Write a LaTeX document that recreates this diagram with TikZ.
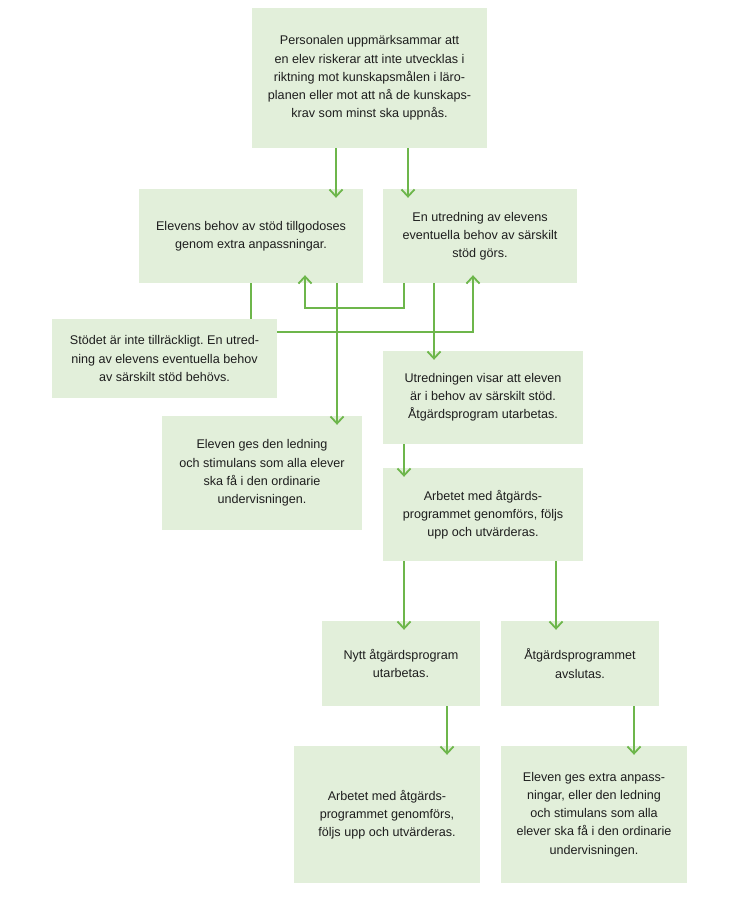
\documentclass[tikz,border=0pt]{standalone}
\usepackage{fontspec}
\setmainfont{Liberation Sans}
\usetikzlibrary{arrows.meta,calc}
\definecolor{boxgreen}{HTML}{E2EFDA}
\definecolor{linegreen}{HTML}{6DB64B}
\definecolor{txt}{HTML}{1E1E1E}
\frenchspacing
\begin{document}
\begin{tikzpicture}[x=1bp,y=-1bp,
  box/.style={fill=boxgreen, inner sep=0pt, align=center, text=txt,
    font=\fontsize{12.6bp}{18.2bp}\selectfont\frenchspacing},
  ln/.style={draw=linegreen, line width=1.8bp},
  arr/.style={ln, -{Straight Barb[length=7bp,width=13bp]}}]
\useasboundingbox (0,0) rectangle (747,897);
\fill[white] (0,0) rectangle (747,897);
% boxes
\node[box, minimum width=235bp, minimum height=140bp] (top) at (369.5,78)
  {Personalen uppmärksammar att\\ en elev riskerar att inte utvecklas i\\ riktning mot kunskapsmålen i läro-\\ planen eller mot att nå de kunskaps-\\ krav som minst ska uppnås.};
\node[box, minimum width=224bp, minimum height=94bp] (b1) at (251,236)
  {Elevens behov av stöd tillgodoses\\ genom extra anpassningar.};
\node[box, minimum width=194bp, minimum height=94bp] (b2) at (480,236)
  {En utredning av elevens\\ eventuella behov av särskilt\\ stöd görs.};
\node[box, minimum width=225bp, minimum height=79bp] (stod) at (164.5,358.5)
  {Stödet är inte tillräckligt. En utred-\\ ning av elevens eventuella behov\\ av särskilt stöd behövs.};
\node[box, minimum width=200bp, minimum height=93bp] (utr) at (483,397.5)
  {Utredningen visar att eleven\\ är i behov av särskilt stöd.\\ Åtgärdsprogram utarbetas.};
\node[box, minimum width=200bp, minimum height=114bp] (elev) at (262,473)
  {Eleven ges den ledning\\ och stimulans som alla elever\\ ska få i den ordinarie\\ undervisningen.};
\node[box, minimum width=200bp, minimum height=93bp] (arb) at (483,514.5)
  {Arbetet med åtgärds-\\ programmet genomförs, följs\\ upp och utvärderas.};
\node[box, minimum width=158bp, minimum height=85bp] (nytt) at (401,663.5)
  {Nytt åtgärdsprogram\\ utarbetas.};
\node[box, minimum width=158bp, minimum height=85bp] (avsl) at (580,663.5)
  {Åtgärdsprogrammet\\ avslutas.};
\node[box, minimum width=186bp, minimum height=137bp] (arbb) at (387,814.5)
  {Arbetet med åtgärds-\\ programmet genomförs,\\ följs upp och utvärderas.};
\node[box, minimum width=186bp, minimum height=137bp] (extra) at (594,814.5)
  {Eleven ges extra anpass-\\ ningar, eller den ledning\\ och stimulans som alla\\ elever ska få i den ordinarie\\ undervisningen.};
% helper coordinates
\coordinate (x251) at (251,0);
\coordinate (x305) at (305,0);
\coordinate (x336) at (336,0);
\coordinate (x337) at (337,0);
\coordinate (x404) at (404,0);
\coordinate (x408) at (408,0);
\coordinate (x434) at (434,0);
\coordinate (x473) at (473,0);
\coordinate (x447) at (447,0);
\coordinate (x556) at (556,0);
\coordinate (x634) at (634,0);
\coordinate (y308) at (0,308);
\coordinate (y332) at (0,332);
% connectors
\draw[arr] (top.south -| x336) -- ($(b1.north -| x336)+(0,9)$);
\draw[arr] (top.south -| x408) -- ($(b2.north -| x408)+(0,9)$);
\draw[ln] (b1.south -| x251) -- (stod.north -| x251);
\draw[arr] (b1.south -| x337) -- ($(elev.north -| x337)+(0,9)$);
\draw[arr] (b2.south -| x404) -- (x404 |- y308) -- (x305 |- y308) -- ($(b1.south -| x305)+(0,-8)$);
\draw[arr] (b2.south -| x434) -- ($(utr.north -| x434)+(0,9)$);
\draw[arr] (stod.east |- y332) -- (x473 |- y332) -- ($(b2.south -| x473)+(0,-8)$);
\draw[arr] (utr.south -| x404) -- ($(arb.north -| x404)+(0,9)$);
\draw[arr] (arb.south -| x404) -- ($(nytt.north -| x404)+(0,9)$);
\draw[arr] (arb.south -| x556) -- ($(avsl.north -| x556)+(0,9)$);
\draw[arr] (nytt.south -| x447) -- ($(arbb.north -| x447)+(0,9)$);
\draw[arr] (avsl.south -| x634) -- ($(extra.north -| x634)+(0,9)$);
\end{tikzpicture}
\end{document}
